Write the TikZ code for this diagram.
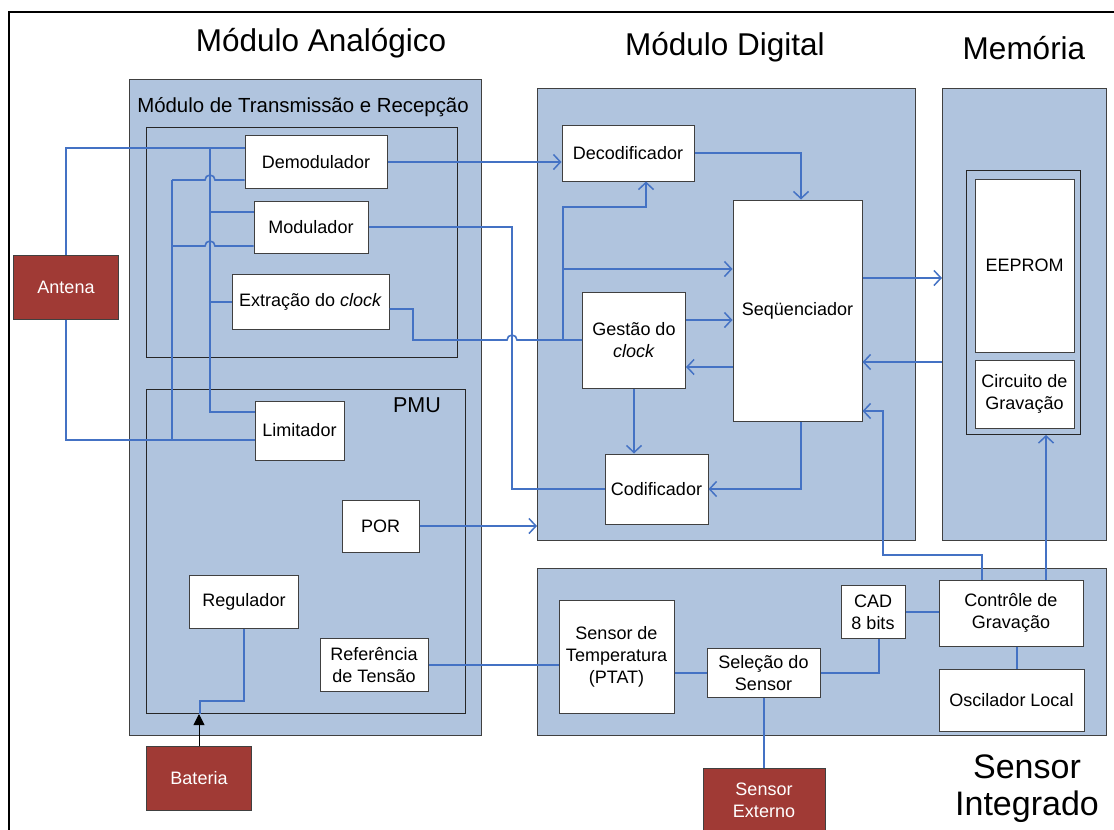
\documentclass[tikz,border=0pt]{standalone}
\usepackage{fontspec}
\setmainfont{Liberation Sans}
\usetikzlibrary{arrows.meta}
\definecolor{panelfill}{RGB}{176,196,222}
\definecolor{wireblue}{RGB}{68,114,196}
\definecolor{extred}{RGB}{160,58,53}
\definecolor{edgegray}{RGB}{64,64,64}
\tikzset{
  panel/.style={draw=edgegray, line width=1.2pt, fill=panelfill, anchor=north west, inner sep=0pt},
  frame/.style={draw=black!85, line width=1pt, anchor=north west, inner sep=0pt},
  block/.style={draw=edgegray, line width=1pt, fill=white, inner sep=0pt, align=center,
    font=\fontsize{18}{22}\selectfont},
  extblock/.style={block, fill=extred, text=white},
  wire/.style={draw=wireblue, line width=1.6pt},
  arr/.style={-{Straight Barb[length=7pt,width=15pt,line width=1.5pt]}},
  title/.style={font=\fontsize{31.5}{38}\selectfont, align=center},
}
\begin{document}
\begin{tikzpicture}[x=1pt, y=-1pt]
\useasboundingbox (0,0) rectangle (1114,830);
\fill[white] (0,0) rectangle (1114,830);

% outer frame
\draw[line width=2pt] (9,830) -- (9,12) -- (1114,12);

% titles
\node[title] (tanal) at (321,43) {Módulo Analógico};
\node[title] (tdig) at (725,47) {Módulo Digital};
\node[title] (tmem) at (1024,48) {Memória};
\node[title, font=\fontsize{34}{37}\selectfont] (tsens) at (1027,789) {Sensor\\Integrado};

% panels
\node[panel, minimum width=352pt, minimum height=656pt] (anal) at (129,79) {};
\node[panel, minimum width=378pt, minimum height=452pt] (digp) at (537,88) {};
\node[panel, minimum width=164pt, minimum height=452pt] (memp) at (942,88) {};
\node[panel, minimum width=569pt, minimum height=167pt] (sensp) at (537,568) {};

% inner frames
\node[frame, minimum width=311pt, minimum height=230pt] (trx) at (146,127) {};
\node[frame, minimum width=319pt, minimum height=324pt] (pmu) at (146,389) {};
\node[frame, minimum width=114pt, minimum height=264pt] (memin) at (966,170) {};

\node[font=\fontsize{20.4}{24}\selectfont] (ttrx) at (303,107) {Módulo de Transmissão e Recepção};
\node[font=\fontsize{21.5}{26}\selectfont] (tpmu) at (417,405) {PMU};

% analog blocks
\node[block, minimum width=142pt, minimum height=53pt] (demod) at (316,162) {Demodulador};
\node[block, minimum width=114pt, minimum height=52pt] (mod) at (311,227) {Modulador};
\node[block, minimum width=157pt, minimum height=55pt] (extr) at (310.5,301.5) {Extração do \textit{clock}};
\node[block, minimum width=89pt, minimum height=59pt] (limit) at (299.5,430.5) {Limitador};
\node[block, minimum width=77pt, minimum height=52pt] (por) at (380.5,526) {POR};
\node[block, minimum width=109pt, minimum height=53pt] (reg) at (244,601.5) {Regulador};
\node[block, minimum width=108pt, minimum height=53pt] (ref) at (374,665) {Referência\\de Tensão};

% external blocks
\node[extblock, minimum width=105pt, minimum height=64pt] (antena) at (66,287) {Antena};
\node[extblock, minimum width=105pt, minimum height=64pt] (bateria) at (199,778) {Bateria};
\node[extblock, minimum width=122pt, minimum height=64pt] (sensext) at (764,800) {Sensor\\Externo};

% digital blocks
\node[block, minimum width=132pt, minimum height=56pt] (decod) at (628,153) {Decodificador};
\node[block, minimum width=129pt, minimum height=221pt] (seq) at (797.5,310.5) {Seqüenciador};
\node[block, minimum width=103pt, minimum height=96pt] (gestao) at (634,340) {Gestão do\\\textit{clock}};
\node[block, minimum width=103pt, minimum height=70pt] (codif) at (656.5,489) {Codificador};

% memory blocks
\node[block, minimum width=99pt, minimum height=173pt] (eeprom) at (1024.5,265.5) {EEPROM};
\node[block, minimum width=99pt, minimum height=68pt] (circ) at (1024.5,394) {Circuito de\\Gravação};

% sensor blocks
\node[block, minimum width=64pt, minimum height=53pt] (cad) at (873,612) {CAD\\8 bits};
\node[block, minimum width=144pt, minimum height=66pt] (contr) at (1011,613) {Contrôle de\\Gravação};
\node[block, minimum width=115pt, minimum height=113pt] (temp) at (616.5,656.5) {Sensor de\\Temperatura\\(PTAT)};
\node[block, minimum width=113pt, minimum height=49pt] (selec) at (763.5,673) {Seleção do\\Sensor};
\node[block, minimum width=145pt, minimum height=62pt] (osc) at (1011.5,700) {Oscilador Local};

% junction points of the antenna buses
\coordinate (busA) at (210,148);
\coordinate (busAm) at (210,212);
\coordinate (busAe) at (210,302);
\coordinate (busBtop) at (172,180);
\coordinate (busBm) at (172,246);
\coordinate (busBbot) at (172,440);
\coordinate (clkbus) at (563,340);
\coordinate (clkseq) at (563,269);

% antenna connections
\draw[wire] (antena.north) |- (demod.west |- busA);
\draw[wire] (antena.south) |- (limit.west |- busBbot);
\draw[wire] (busA) |- (limit.west |- 0,412);
\draw[wire] (busAm) -- (mod.west |- busAm);
\draw[wire] (busAe) -- (extr.west |- busAe);
\draw[wire] (busBtop) -- (busBbot);
\draw[wire] (busBtop) -- (205,180) arc[start angle=180, end angle=0, radius=5pt]
  -- (demod.west |- busBtop);
\draw[wire] (busBm) -- (205,246) arc[start angle=180, end angle=0, radius=5pt]
  -- (mod.west |- busBm);

% modulator <-> encoder
\draw[wire] (mod.east) -| (512,489) -- (codif.west);

% clock extraction -> clock management
\draw[wire] (extr.east |- 0,309) -- (413,309) -- (413,340) -- (507,340)
  arc[start angle=180, end angle=0, radius=5pt] -- (gestao.west);
\draw[wire, arr] (clkbus) |- (646,207) -- (decod.south -| 646,0);
\draw[wire, arr] (clkseq) -- (seq.west |- clkseq);

% digital module
\draw[wire, arr] (demod.east) -- (decod.west |- demod.east);
\draw[wire, arr] (gestao.east |- 0,320) -- (seq.west |- 0,320);
\draw[wire, arr] (seq.west |- 0,367) -- (gestao.east |- 0,367);
\draw[wire, arr] (gestao.south) -- (codif.north -| gestao.south);
\draw[wire, arr] (decod.east) -| (seq.north -| 801,0);
\draw[wire, arr] (seq.south -| 801,0) |- (codif.east);
\draw[wire, arr] (por.east) -- (digp.west |- por.east);

% memory
\draw[wire, arr] (seq.east |- 0,278) -- (memp.west |- 0,278);
\draw[wire, arr] (memp.west |- 0,362) -- (seq.east |- 0,362);

% integrated sensor
\draw[wire, arr] (contr.north -| 982,0) |- (883,555) |- (seq.east |- 0,411);
\draw[wire, arr] (contr.north -| 1046,0) -- (memin.south -| 1046,0);
\draw[wire] (cad.east |- 0,612) -- (contr.west |- 0,612);
\draw[wire] (contr.south -| 1017,0) -- (osc.north -| 1017,0);
\draw[wire] (temp.east |- 0,673) -- (selec.west |- 0,673);
\draw[wire] (selec.east) -| (cad.south -| 879,0);
\draw[wire] (selec.south -| 764,0) -- (sensext.north -| 764,0);
\draw[wire] (ref.east) -- (temp.west |- ref.east);

% power
\draw[wire] (reg.south) |- (200,701) -- (pmu.south -| 200,0);
\draw[line width=1pt, -{Triangle[length=11pt,width=11pt]}] (bateria.north) -- (pmu.south -| bateria.north);
\end{tikzpicture}
\end{document}
